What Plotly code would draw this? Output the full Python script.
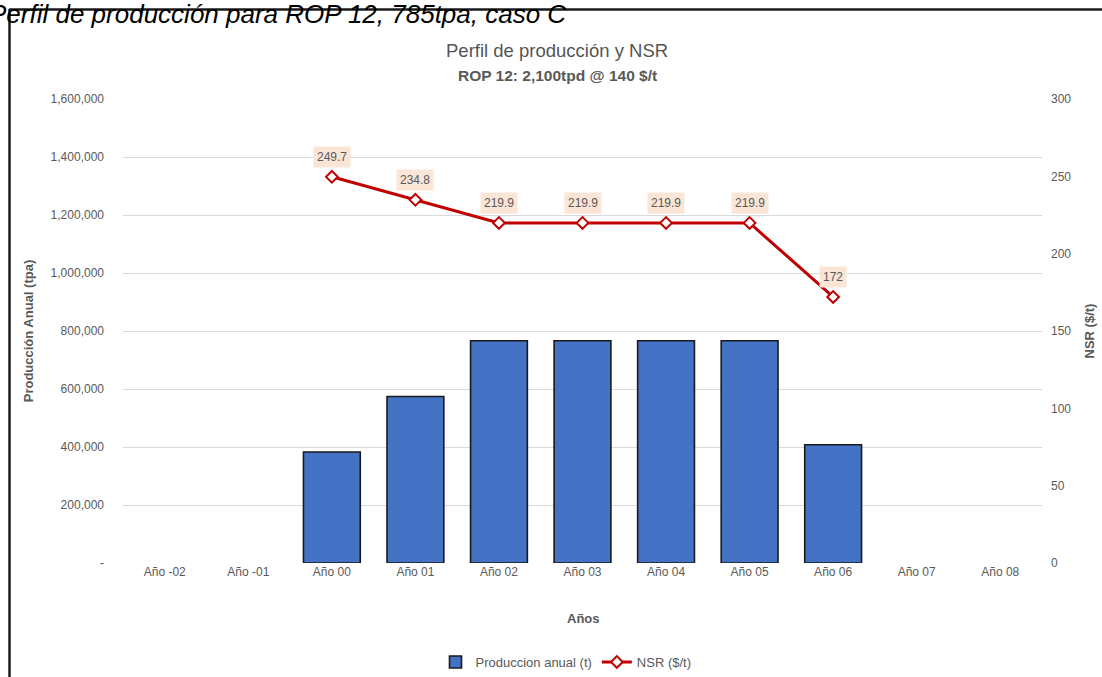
import plotly.graph_objects as go

categories = ["Año -02", "Año -01", "Año 00", "Año 01", "Año 02", "Año 03",
              "Año 04", "Año 05", "Año 06", "Año 07", "Año 08"]
production = [None, None, 383000, 574000, 766500, 766500, 766500, 766500, 408000, None, None]
nsr = [None, None, 249.7, 234.8, 219.9, 219.9, 219.9, 219.9, 172, None, None]
nsr_labels = ["", "", "249.7", "234.8", "219.9", "219.9", "219.9", "219.9", "172", "", ""]
left_ticks = [0, 200000, 400000, 600000, 800000, 1000000, 1200000, 1400000, 1600000]
left_ticktext = ["-", "200,000", "400,000", "600,000", "800,000", "1,000,000",
                 "1,200,000", "1,400,000", "1,600,000"]
right_ticks = [0, 50, 100, 150, 200, 250, 300]

FONT = "Liberation Sans, Arial, sans-serif"
GRAY = "#595959"

W, H = 1102, 677
L, R, T, B = 123, 60, 99, 114
pw, ph = W - L - R, H - T - B

def px(x):
    return (x - L) / pw

def py(y):
    return (H - B - y) / ph

fig = go.Figure()
fig.add_trace(go.Bar(
    x=categories, y=production, name="Produccion anual (t)",
    marker=dict(color="#4472C4", line=dict(color="#1a1a1a", width=1.6)),
    yaxis="y",
))
fig.add_trace(go.Scatter(
    x=categories, y=nsr, name="NSR ($/t)", mode="lines+markers",
    line=dict(color="#C00000", width=3),
    marker=dict(symbol="diamond", size=9, color="white",
                line=dict(color="#C00000", width=2)),
    yaxis="y2",
))

annotations = []
for c, v, t in zip(categories, nsr, nsr_labels):
    if v is None:
        continue
    annotations.append(dict(
        x=c, y=v, xref="x", yref="y2", text=t, showarrow=False,
        yshift=20, bgcolor="#FBE5D6", borderpad=3,
        font=dict(family=FONT, size=12, color=GRAY),
    ))

annotations += [
    dict(x=px(557), y=py(38), xref="paper", yref="paper",
         text="Perfil de producción y NSR", showarrow=False,
         font=dict(family=FONT, size=18.5, color="#555555")),
    dict(x=px(557), y=py(65), xref="paper", yref="paper",
         text="<b>ROP 12: 2,100tpd @ 140 $/t</b>", showarrow=False,
         font=dict(family=FONT, size=15.5, color=GRAY)),
    dict(x=px(583), y=py(628), xref="paper", yref="paper",
         text="<b>Años</b>", showarrow=False,
         font=dict(family=FONT, size=13, color=GRAY)),
    dict(x=px(-13), y=py(-3), xref="paper", yref="paper", xanchor="left",
         text="<i>Perfil de producción para ROP 12, 785tpa, caso C</i>",
         showarrow=False, font=dict(family=FONT, size=26, color="black")),
]

shapes = [
    dict(type="line", xref="paper", yref="paper", x0=px(9), x1=px(1110),
         y0=py(9.5), y1=py(9.5), line=dict(color="#1a1a1a", width=2.5)),
    dict(type="line", xref="paper", yref="paper", x0=px(9.5), x1=px(9.5),
         y0=py(9), y1=py(690), line=dict(color="#1a1a1a", width=2.5)),
]

fig.update_layout(
    width=W, height=H,
    margin=dict(l=L, r=R, t=T, b=B, autoexpand=False),
    paper_bgcolor="white", plot_bgcolor="white",
    font=dict(family=FONT, color=GRAY, size=12),
    bargap=0.32,
    showlegend=True,
    legend=dict(orientation="h", x=px(566), xanchor="center", y=py(662), yanchor="middle",
                font=dict(family=FONT, size=13, color=GRAY), traceorder="normal"),
    xaxis=dict(type="category", categoryorder="array", categoryarray=categories,
               range=[-0.5, len(categories) - 0.5],
               showgrid=False, showline=False, ticks="", automargin=False,
               tickfont=dict(size=12, color=GRAY)),
    yaxis=dict(range=[0, 1600000], tickvals=left_ticks, ticktext=left_ticktext,
               showgrid=True, gridcolor="#D9D9D9", gridwidth=1, zeroline=False,
               showline=False, ticks="", ticklabelstandoff=18, automargin=False,
               tickfont=dict(size=12, color=GRAY),
               title=dict(text="<b>Producción Anual (tpa)</b>", standoff=14,
                          font=dict(size=13, color=GRAY))),
    yaxis2=dict(range=[0, 300], tickvals=right_ticks, overlaying="y", side="right",
                showgrid=False, zeroline=False, showline=False, ticks="",
                ticklabelstandoff=8, automargin=False, tickfont=dict(size=12, color=GRAY),
                title=dict(text="<b>NSR ($/t)</b>", standoff=14,
                           font=dict(size=13, color=GRAY))),
    annotations=annotations,
    shapes=shapes,
)

fig.write_html("out.html", config={"displayModeBar": False},
               post_script="document.body.style.margin='0';")
